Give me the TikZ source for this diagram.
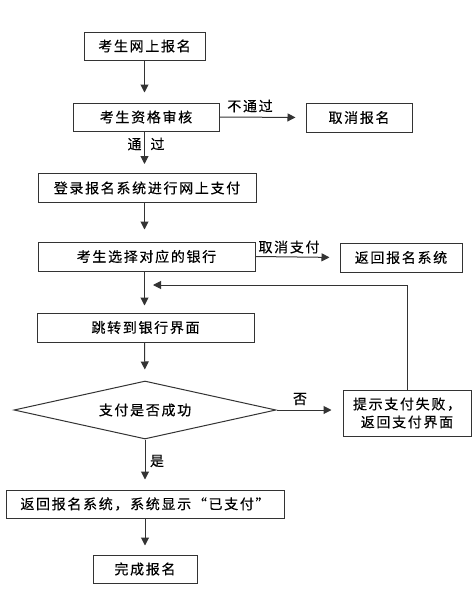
\documentclass[tikz,border=0pt]{standalone}
\usepackage{fontspec}
\setmainfont{Noto Sans CJK SC}[LetterSpace=12,FakeBold=0.3]
\usetikzlibrary{shapes.geometric,arrows.meta}
\tikzset{
  box/.style={draw=black!80, line width=1pt, inner sep=0pt, align=center, font=\fontsize{14}{18}\selectfont},
  lbl/.style={inner sep=0pt, font=\fontsize{14}{16}\selectfont},
  arr/.style={draw=black!80, line width=1pt, -{Triangle[length=8pt,width=8pt]}, shorten >=10pt},
  arrf/.style={draw=black!80, line width=1pt, -{Triangle[length=8pt,width=8pt]}}
}
\begin{document}
\begin{tikzpicture}[x=1pt,y=-1pt]
\useasboundingbox[fill=white] (0,0) rectangle (473,597);
\node[box, minimum width=121pt, minimum height=28pt] (b1) at (144.5,46) {考生网上报名};
\node[box, minimum width=146pt, minimum height=28pt] (b2) at (146,117) {考生资格审核};
\node[box, minimum width=106pt, minimum height=29pt] (b3) at (359,117.5) {取消报名};
\node[box, minimum width=218pt, minimum height=29pt] (b4) at (147,188) {登录报名系统进行网上支付};
\node[box, minimum width=217pt, minimum height=29pt] (b5) at (146.5,256.5) {考生选择对应的银行};
\node[box, minimum width=122pt, minimum height=29pt] (b6) at (401,257.5) {返回报名系统};
\node[box, minimum width=217pt, minimum height=29pt] (b7) at (145.5,327.5) {跳转到银行界面};
\node[box, diamond, aspect=4.52, minimum width=262pt, minimum height=58pt] (d) at (145,410) {支付是否成功};
\node[box, minimum width=128pt, minimum height=46pt] (b8) at (407,413) {提示支付失败，\\返回支付界面};
\node[box, minimum width=278pt, minimum height=28pt] (b9) at (145,504) {返回报名系统，系统显示“已支付”};
\node[box, minimum width=104pt, minimum height=28pt] (b10) at (145,569) {完成报名};
\coordinate (fb) at (153,285);

\draw[arr] (b1.south) -- (b1.south |- b2.north);
\draw[arr] (b2.east) -- (b3.west);
\draw[arr, shorten >=9pt] (b2.south -| b1.south) -- (b1.south |- b4.north);
\draw[arr, shorten >=12pt] (b4.south -| b1.south) -- (b1.south |- b5.north);
\draw[arr] (b5.east) -- (b6.west);
\draw[arr, shorten >=7pt] (b5.south -| b1.south) -- (b1.south |- b7.north);
\draw[arr, shorten >=11pt] (b7.south -| b1.south) -- (d.north);
\draw[arr, shorten >=11pt] (d.east) -- (b8.west |- d.east);
\draw[arr] (d.south) -- (d.south |- b9.north);
\draw[arr, shorten >=9pt] (b9.south) -- (b10.north);
\draw[arrf] (b8.north) |- (fb);

\node[lbl] (l1) at (250,106) {不通过};
\node[lbl] (l2) at (146,144) {通\hspace{9pt}过};
\node[lbl] (l3) at (289,247) {取消支付};
\node[lbl] (l4) at (300,399) {否};
\node[lbl] (l5) at (157,461) {是};
\end{tikzpicture}
\end{document}
